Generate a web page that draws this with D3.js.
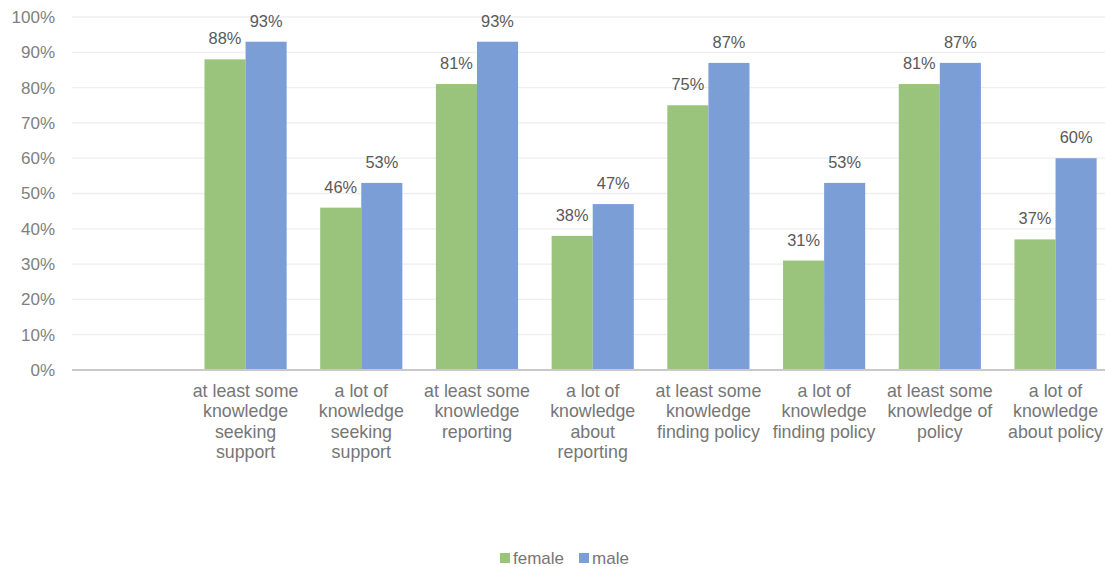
<!DOCTYPE html>
<html>
<head>
<meta charset="utf-8">
<script src="https://cdn.jsdelivr.net/npm/d3@7"></script>
<style>
  html, body { margin: 0; padding: 0; background: #fff; }
  svg { display: block; font-family: "Liberation Sans", Arial, sans-serif; }
</style>
</head>
<body>
<svg id="chart" width="1105" height="567"></svg>
<script>
// Survey results: share of respondents with knowledge of each topic, by gender
const categories = [
  "at least some knowledge seeking support",
  "a lot of knowledge seeking support",
  "at least some knowledge reporting",
  "a lot of knowledge about reporting",
  "at least some knowledge finding policy",
  "a lot of knowledge finding policy",
  "at least some knowledge of policy",
  "a lot of knowledge about policy"
];
const female = [88, 46, 81, 38, 75, 31, 81, 37];
const male   = [93, 53, 93, 47, 87, 53, 87, 60];
const seriesNames = ["female", "male"];
const yTicks = [0, 10, 20, 30, 40, 50, 60, 70, 80, 90, 100];

const colors = { female: "#9AC47C", male: "#7B9ED7" };

const svg = d3.select("#chart");
const plot = { left: 72, right: 1113.4, top: 17, bottom: 370 };

// The category axis keeps an empty leading slot before the first group
const slots = ["__blank__"].concat(categories);
const x = d3.scaleBand().domain(slots).range([plot.left, plot.right]).padding(0);
const bw = x.bandwidth();
const gap = bw * 0.29;
const xs = d3.scaleBand().domain(seriesNames).range([gap / 2, bw - gap / 2]).padding(0);
const y = d3.scaleLinear().domain([0, 100]).range([plot.bottom, plot.top]);

// Gridlines
svg.append("g")
  .selectAll("line")
  .data(yTicks.filter(d => d > 0))
  .join("line")
  .attr("x1", plot.left).attr("x2", 1105)
  .attr("y1", d => y(d)).attr("y2", d => y(d))
  .attr("stroke", "#eeeeee").attr("stroke-width", 1.3);

// Y axis labels
const yAxis = svg.append("g")
  .attr("transform", `translate(${plot.left - 17},0)`)
  .call(d3.axisLeft(y).tickValues(yTicks).tickFormat(d => d + "%").tickSize(0).tickPadding(0));
yAxis.select(".domain").remove();
yAxis.selectAll("text")
  .attr("fill", "#808080")
  .style("font-size", "17px")
  .style("font-family", "'Liberation Sans', Arial, sans-serif");

// Bars
const rows = categories.map((c, i) => ({ cat: c, female: female[i], male: male[i] }));
const groups = svg.append("g").selectAll("g")
  .data(rows)
  .join("g")
  .attr("transform", d => `translate(${x(d.cat)},0)`);

groups.selectAll("rect")
  .data(d => seriesNames.map(s => ({ s, v: d[s] })))
  .join("rect")
  .attr("x", d => xs(d.s))
  .attr("width", xs.bandwidth())
  .attr("y", d => y(d.v))
  .attr("height", d => y(0) - y(d.v))
  .attr("fill", d => colors[d.s]);

groups.selectAll("text.val")
  .data(d => seriesNames.map(s => ({ s, v: d[s] })))
  .join("text")
  .attr("class", "val")
  .attr("x", d => xs(d.s) + xs.bandwidth() / 2)
  .attr("y", d => y(d.v) - 15)
  .attr("text-anchor", "middle")
  .attr("fill", "#595959")
  .style("font-size", "16.4px")
  .text(d => d.v + "%");

// Baseline
svg.append("line")
  .attr("x1", plot.left).attr("x2", 1105)
  .attr("y1", y(0)).attr("y2", y(0))
  .attr("stroke", "#c9c9c9").attr("stroke-width", 2);

// Category labels, wrapped to the band width
const catLabels = svg.append("g").selectAll("text")
  .data(categories)
  .join("text")
  .attr("x", d => x(d) + bw / 2)
  .attr("y", 397)
  .attr("text-anchor", "middle")
  .attr("fill", "#767676")
  .style("font-size", "17.8px");

catLabels.each(function (d) {
  const t = d3.select(this);
  const words = d.split(" ");
  const lines = [];
  let line = [];
  const probe = t.append("tspan");
  words.forEach(w => {
    const trial = line.concat(w).join(" ");
    probe.text(trial);
    if (line.length && probe.node().getComputedTextLength() > bw - 4) {
      lines.push(line.join(" "));
      line = [w];
    } else {
      line.push(w);
    }
  });
  lines.push(line.join(" "));
  probe.remove();
  lines.forEach((l, i) => {
    t.append("tspan")
      .attr("x", x(d) + bw / 2)
      .attr("dy", i === 0 ? 0 : 20.4)
      .text(l);
  });
});

// Legend
const legend = svg.append("g").attr("transform", "translate(500,553)");
let lx = 0;
seriesNames.forEach(s => {
  const item = legend.append("g").attr("transform", `translate(${lx},0)`);
  item.append("rect").attr("width", 10).attr("height", 10).attr("fill", colors[s]);
  const txt = item.append("text")
    .attr("x", 13).attr("y", 10.5)
    .attr("fill", "#767676")
    .style("font-size", "17px")
    .text(s);
  lx += 13 + txt.node().getComputedTextLength() + 15;
});
</script>
</body>
</html>
